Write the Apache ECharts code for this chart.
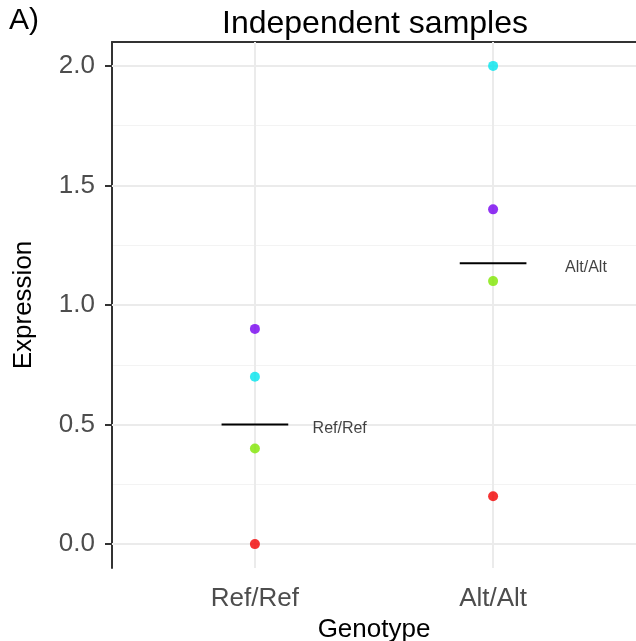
<!DOCTYPE html>
<html>
<head>
<meta charset="utf-8">
<script src="https://cdn.jsdelivr.net/npm/echarts@6/dist/echarts.min.js"></script>
<style>html,body{margin:0;padding:0;background:#fff}#c{width:636px;height:641px}</style>
</head>
<body>
<div id="c"></div>
<script>
// ---- data ----
var genotypes = ['Ref/Ref', 'Alt/Alt'];
var refExpr = [0.0, 0.4, 0.7, 0.9];
var altExpr = [0.2, 1.1, 2.0, 1.4];
var sampleColors = ['#F20000', '#7FE600', '#00E5EE', '#7500F0'];
var yTicks = [0, 0.5, 1.0, 1.5, 2.0];
var yMinorTicks = [0.25, 0.75, 1.25, 1.75];
var xTicks = [1, 2];
var labelX = [1.24, 2.30];

var FONT = 'Liberation Sans, Arial, Helvetica, sans-serif';
var groups = [refExpr, altExpr];
function mean(a){var s=0;for(var i=0;i<a.length;i++)s+=a[i];return s/a.length;}

var series = [];
// grid lines
series.push({
  type: 'line', data: [], z: 0, silent: true,
  markLine: {
    z: 0, silent: true, symbol: 'none', label: {show: false}, animation: false,
    lineStyle: {color: '#F3F3F3', width: 1, type: 'solid'},
    data: yMinorTicks.map(function(v){return {yAxis: v};})
  }
});
series.push({
  type: 'line', data: [], z: 1, silent: true,
  markLine: {
    z: 1, silent: true, symbol: 'none', label: {show: false}, animation: false,
    lineStyle: {color: '#EBEBEB', width: 2, type: 'solid'},
    data: yTicks.map(function(v){return {yAxis: v};}).concat(xTicks.map(function(v){return {xAxis: v};}))
  }
});
// points
groups.forEach(function(vals, gi){
  series.push({
    type: 'scatter', z: 10, symbolSize: 10,
    data: vals.map(function(v, si){
      return {value: [xTicks[gi], v], itemStyle: {color: sampleColors[si]}};
    })
  });
});
// mean segments + labels
groups.forEach(function(vals, gi){
  var m = mean(vals);
  series.push({
    type: 'line', z: 8, symbol: 'none', silent: true,
    lineStyle: {color: '#000', width: 2},
    data: [[xTicks[gi] - 0.14, m], [xTicks[gi] + 0.14, m]]
  });
  series.push({
    type: 'scatter', z: 8, symbolSize: 1, silent: true,
    itemStyle: {color: 'rgba(0,0,0,0)'},
    label: {show: true, position: 'right', distance: 0, offset: [0, 4],
      formatter: genotypes[gi], fontFamily: FONT, fontSize: 16, color: '#111'},
    data: [[labelX[gi], m]]
  });
});

var chart = echarts.init(document.getElementById('c'), null, {renderer: 'canvas'});
chart.setOption({
  animation: false,
  backgroundColor: '#fff',
  title: {text: 'Independent samples', left: 370, top: 3, textAlign: 'center',
    textStyle: {fontFamily: FONT, fontSize: 32, fontWeight: 'normal', color: '#000'}},
  graphic: [{type: 'text', left: 9, top: 6, style: {text: 'A)', fontFamily: FONT, fontSize: 30, fill: '#000'}}],
  grid: {left: 112, right: 0, top: 42, bottom: 73, containLabel: false, outerBoundsMode: 'none'},
  xAxis: [{
    type: 'value', min: 0.4, max: 2.6, position: 'bottom',
    name: 'Genotype', nameLocation: 'middle', nameGap: 48,
    nameTextStyle: {fontFamily: FONT, fontSize: 26, color: '#000'},
    axisLine: {show: true, lineStyle: {color: '#333', width: 2}},
    axisTick: {show: true, length: 7, lineStyle: {color: '#333', width: 2}, customValues: xTicks},
    axisLabel: {show: true, margin: 18, fontFamily: FONT, fontSize: 26, color: '#4D4D4D',
      customValues: xTicks, formatter: function(v){return genotypes[Math.round(v) - 1];}},
    splitLine: {show: false}
  }, {
    type: 'value', min: 0.4, max: 2.6, position: 'top',
    axisLine: {show: true, onZero: false, lineStyle: {color: '#333', width: 2}},
    axisTick: {show: false}, axisLabel: {show: false}, splitLine: {show: false}
  }],
  yAxis: {
    type: 'value', min: -0.1, max: 2.1,
    name: 'Expression', nameLocation: 'middle', nameGap: 75,
    nameTextStyle: {fontFamily: FONT, fontSize: 26, color: '#000'},
    axisLine: {show: true, onZero: false, lineStyle: {color: '#333', width: 2}},
    axisTick: {show: true, length: 7, lineStyle: {color: '#333', width: 2}, customValues: yTicks},
    axisLabel: {show: true, margin: 17, fontFamily: FONT, fontSize: 26, color: '#4D4D4D',
      customValues: yTicks, formatter: function(v){return v.toFixed(1);}},
    splitLine: {show: false}
  },
  series: series
});
</script>
</body>
</html>
